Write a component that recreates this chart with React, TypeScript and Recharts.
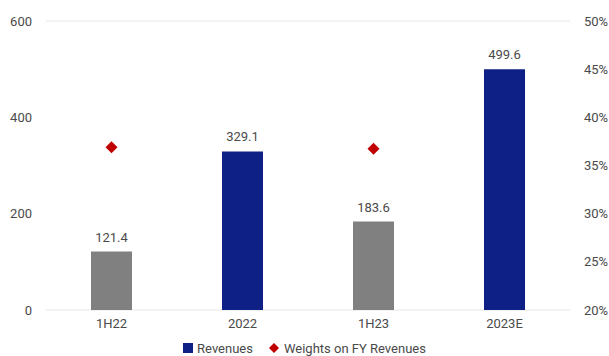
import React from 'react';
import { ComposedChart, Bar, Line, XAxis, YAxis, CartesianGrid, Cell, LabelList, Legend } from 'recharts';

const categories = ['1H22', '2022', '1H23', '2023E'];
const revenues = [121.4, 329.1, 183.6, 499.6];
const weights = [0.369, null, 0.3675, null];
const isHalfYear = [true, false, true, false];
const leftTicks = [0, 200, 400, 600];
const rightTicks = [0.2, 0.25, 0.3, 0.35, 0.4, 0.45, 0.5];

const NAVY = '#0e1f86';
const GREY = '#808080';
const RED = '#c00000';
const TEXT = '#4a4a4a';

const data = categories.map((name, i) => ({ name, revenues: revenues[i], weight: weights[i] }));

const Diamond = (props: any) => {
  const { cx, cy, value } = props;
  if (value == null || cx == null || cy == null) return null;
  const r = 6;
  return <polygon points={`${cx},${cy - r} ${cx + r},${cy} ${cx},${cy + r} ${cx - r},${cy}`} fill={RED} />;
};

const LegendContent = () => (
  <div style={{ display: 'flex', justifyContent: 'center', alignItems: 'center', fontSize: 13, color: TEXT, height: 16 }}>
    <span style={{ display: 'inline-block', width: 10, height: 10, background: NAVY, marginRight: 4 }} />
    <span style={{ marginRight: 16 }}>Revenues</span>
    <svg width={10} height={10} style={{ marginRight: 5 }}>
      <polygon points="5,0 10,5 5,10 0,5" fill={RED} />
    </svg>
    <span>Weights on FY Revenues</span>
  </div>
);

export default function App() {
  return (
    <div style={{ position: 'absolute', left: 0, top: 0, fontFamily: 'Roboto, sans-serif' }}>
      <ComposedChart width={609} height={356} data={data} margin={{ top: 21, right: 0, left: 0, bottom: 0 }}>
        <CartesianGrid vertical={false} stroke="#e6e6e6" />
        <XAxis dataKey="name" axisLine={false} tickLine={false} tickMargin={3} height={30}
          tick={{ fill: TEXT, fontSize: 13 }} />
        <YAxis yAxisId="left" domain={[0, 600]} ticks={leftTicks} axisLine={false} tickLine={false}
          tickMargin={8} width={46} tick={{ fill: TEXT, fontSize: 13 }} />
        <YAxis yAxisId="right" orientation="right" domain={[0.2, 0.5]} ticks={rightTicks} axisLine={false}
          tickLine={false} tickMargin={8} width={39} tick={{ fill: TEXT, fontSize: 13 }}
          tickFormatter={(v: number) => `${Math.round(v * 100)}%`} />
        <Legend verticalAlign="bottom" height={16} content={<LegendContent />} />
        <Bar yAxisId="left" dataKey="revenues" barSize={41} isAnimationActive={false}>
          {data.map((d, i) => (
            <Cell key={d.name} fill={isHalfYear[i] ? GREY : NAVY} />
          ))}
          <LabelList dataKey="revenues" position="top" offset={10} fill={TEXT} fontSize={13}
            formatter={(v: any) => Number(v).toFixed(1)} />
        </Bar>
        <Line yAxisId="right" dataKey="weight" stroke="none" dot={<Diamond />} activeDot={false}
          connectNulls={false} isAnimationActive={false} />
      </ComposedChart>
    </div>
  );
}
